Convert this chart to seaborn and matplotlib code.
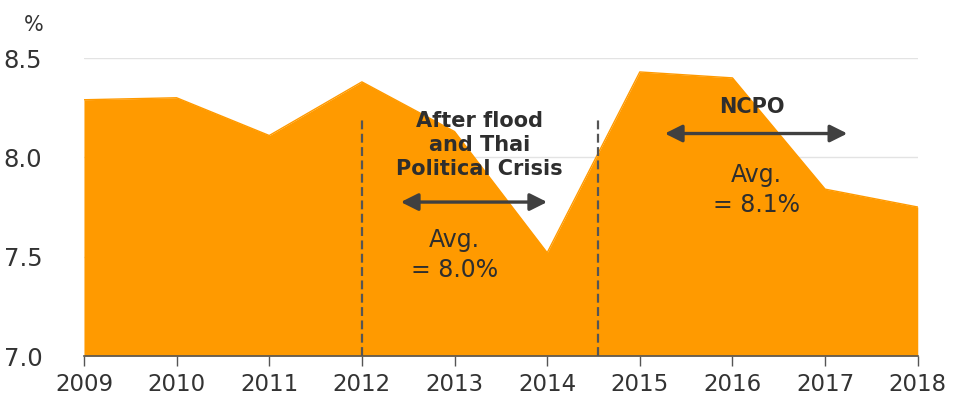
import numpy as np
import pandas as pd
import matplotlib
matplotlib.use("Agg")
import matplotlib.pyplot as plt
import seaborn as sns

years = [2009, 2010, 2011, 2012, 2013, 2014, 2015, 2016, 2017, 2018]
values = [8.29, 8.30, 8.11, 8.38, 8.13, 7.52, 8.43, 8.40, 7.84, 7.75]
yticks = [7.0, 7.5, 8.0, 8.5]
period_lines = [2012, 2014.55]

sns.set_theme(style="white")
plt.rcParams['font.family'] = ['DejaVu Sans']

df = pd.DataFrame({"year": years, "value": values})
orange = "#FF9A00"

fig = plt.figure(figsize=(9.54, 4.03), dpi=100)
ax = fig.add_axes([0.088, 0.1166, 0.874, 0.7394])

for y in yticks[1:]:
    ax.axhline(y, color="#e3e3e3", lw=1, zorder=0)

sns.lineplot(data=df, x="year", y="value", ax=ax, color=orange, lw=1, zorder=2)
ax.fill_between(df["year"], df["value"], 7.0, color=orange, lw=0, zorder=2)

for xv in period_lines:
    ax.plot([xv, xv], [7.0, 8.21], ls=(0, (4, 2)), color="#555555", lw=1.6, zorder=3)

ax.set_xlim(2009, 2018)
ax.set_ylim(7.0, 8.5)
ax.set_xticks(years)
ax.set_xticklabels([str(y) for y in years])
ax.set_yticks(yticks)
ax.set_yticklabels([f"{v:.1f}" for v in yticks])
ax.set_xlabel("")
ax.set_ylabel("")

for s in ["top", "right", "left"]:
    ax.spines[s].set_visible(False)
ax.spines["bottom"].set_color("#555555")
ax.spines["bottom"].set_linewidth(1.2)
ax.tick_params(axis="x", bottom=True, length=7, width=1, color="#555555",
               labelsize=16.5, labelcolor="#333333", pad=5)
ax.tick_params(axis="y", left=False, labelsize=17.5, labelcolor="#333333", pad=24)

fig.text(34 / 954, 1 - 25 / 403, "%", fontsize=15, color="#333333", ha="center", va="center")

txt = "#2e2e2e"
ax.text(2013.27, 8.06, "After flood\nand Thai\nPolitical Crisis", ha="center", va="center",
        fontsize=15, fontweight="bold", color=txt, linespacing=1.25, zorder=4)
ax.annotate("", xy=(2012.39, 7.775), xytext=(2014.03, 7.775),
            arrowprops=dict(arrowstyle="<|-|>", color="#404040", lw=2.4, mutation_scale=26), zorder=4)
ax.text(2013.0, 7.51, "Avg.\n= 8.0%", ha="center", va="center", fontsize=17,
        color=txt, linespacing=1.3, zorder=4)

ax.text(2016.21, 8.253, "NCPO", ha="center", va="center", fontsize=15,
        fontweight="bold", color=txt, zorder=4)
ax.annotate("", xy=(2015.24, 8.12), xytext=(2017.27, 8.12),
            arrowprops=dict(arrowstyle="<|-|>", color="#404040", lw=2.4, mutation_scale=26), zorder=4)
ax.text(2016.26, 7.835, "Avg.\n= 8.1%", ha="center", va="center", fontsize=17,
        color=txt, linespacing=1.3, zorder=4)

fig.savefig("out.png", dpi=100)
